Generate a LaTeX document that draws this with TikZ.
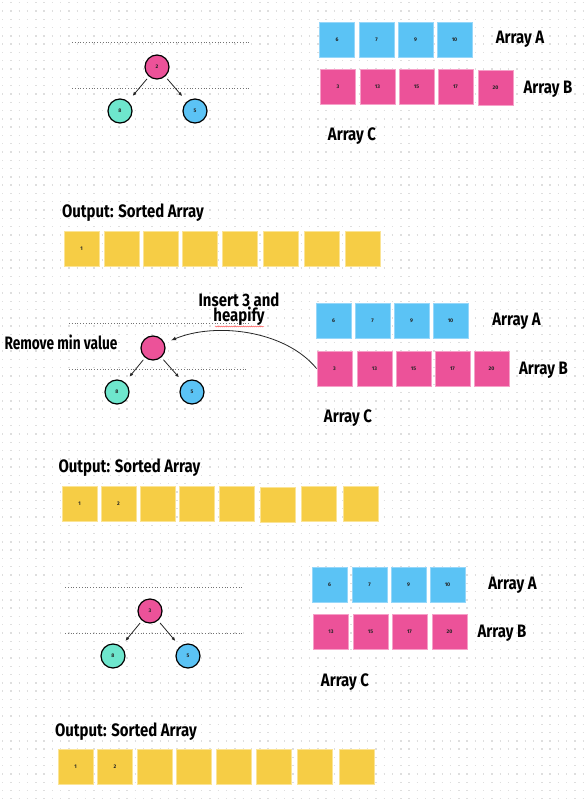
\documentclass[tikz,border=0pt]{standalone}
\usepackage{fontspec}
\setmainfont{Fira Sans}
\usetikzlibrary{arrows.meta,decorations.pathmorphing}
\definecolor{bluebox}{RGB}{91,195,245}
\definecolor{blueedge}{RGB}{150,215,250}
\definecolor{pinkbox}{RGB}{236,82,153}
\definecolor{pinkedge}{RGB}{246,160,200}
\definecolor{yellowbox}{RGB}{246,205,69}
\definecolor{yellowedge}{RGB}{251,228,150}
\definecolor{tealnode}{RGB}{110,230,205}
\definecolor{griddot}{RGB}{222,222,222}
\definecolor{numtext}{RGB}{35,35,35}
\newcommand\handtext[1]{\scalebox{0.83}[1]{#1}}
\begin{document}
\begin{tikzpicture}[x=1pt,y=-1pt,
  cell/.style={minimum width=35pt,minimum height=35pt,inner sep=0pt,line width=0.9pt,
    font=\bfseries\fontsize{5.2}{5.2}\selectfont\color{numtext}},
  acell/.style={cell,fill=bluebox,draw=blueedge},
  bcell/.style={cell,fill=pinkbox,draw=pinkedge},
  ocell/.style={cell,fill=yellowbox,draw=yellowedge},
  heapnode/.style={circle,draw=black,line width=1.2pt,minimum size=24pt,inner sep=0pt,
    font=\bfseries\fontsize{5.2}{5.2}\selectfont\color{numtext}},
  rootnode/.style={heapnode,fill=pinkbox},
  leftnode/.style={heapnode,fill=tealnode},
  rightnode/.style={heapnode,fill=bluebox},
  treeedge/.style={-{Latex[length=4pt,width=3.5pt]},line width=0.8pt,black!85,
    shorten <=3pt,shorten >=7pt},
  levelline/.style={dotted,line width=0.8pt,black!55},
  handlabel/.style={font=\bfseries\fontsize{18}{15}\selectfont,anchor=base,inner sep=0pt},
]
\useasboundingbox (0,0) rectangle (583,799);
\fill[white] (0,0) rectangle (583,799);
\foreach \r in {0,...,96}{
  \draw[griddot,line width=1.4pt,dash pattern=on 1.4pt off 6.894pt]
    (2,{2.7+8.294*\r}) -- (583,{2.7+8.294*\r});
}

% ---------------- top section ----------------
\draw[levelline] (72,42) -- (250,42);
\draw[levelline] (72,88) -- (250,88);
\node[rootnode] (t1r) at (157,67) {2};
\node[leftnode] (t1l) at (120,111) {8};
\node[rightnode] (t1g) at (195,111) {5};
\draw[treeedge] (t1r) -- (t1l);
\draw[treeedge] (t1r) -- (t1g);

\foreach \x/\v [count=\i] in {337/6,376.5/7,415.5/9,454.5/10}
  \node[acell] (t1a\i) at (\x,39.5) {\v};
\foreach \x/\y/\v [count=\i] in {338/86.5/3,377.5/86.5/13,416.5/86.5/15,455.5/86.5/17,495.5/87.5/20}
  \node[bcell] (t1b\i) at (\x,\y) {\v};
\node[handlabel] (t1la) at (520,43.3) {\handtext{Array A}};
\node[handlabel] (t1lb) at (548,93.3) {\handtext{Array B}};
\node[handlabel] (t1lc) at (352,141) {\handtext{Array C}};

\node[handlabel] (t1lo) at (133,217.3) {\handtext{Output: Sorted Array}};
\foreach \x/\v [count=\i] in {81.5/1,121.5/,160.5/,199.5/,239.5/,280.5/,321.5/,363/}
  \node[ocell] (t1o\i) at (\x,248.5) {\v};

% ---------------- middle section ----------------
\draw[levelline] (69,323) -- (250,323);
\draw[levelline] (69,369) -- (246,369);
\node[rootnode] (m2r) at (153,348) {};
\node[leftnode] (m2l) at (117,392) {8};
\node[rightnode] (m2g) at (192,392) {5};
\draw[treeedge] (m2r) -- (m2l);
\draw[treeedge] (m2r) -- (m2g);

\foreach \x/\v [count=\i] in {333.5/6,372.5/7,411.5/9,450.5/10}
  \node[acell] (m2a\i) at (\x,320.5) {\v};
\foreach \x/\v [count=\i] in {334.5/3,374.5/13,413.5/15,452.5/17,491.5/20}
  \node[bcell] (m2b\i) at (\x,368.5) {\v};
\node[handlabel] (m2la) at (516.5,325) {\handtext{Array A}};
\node[handlabel] (m2lb) at (543.5,374) {\handtext{Array B}};
\node[handlabel] (m2lc) at (348,422.3) {\handtext{Array C}};

\node[handlabel] (m2rm) at (61,349.3) {\scalebox{0.76}[1]{Remove min value}};
\node[handlabel,align=center] (m2ins) at (239,321.5) {\handtext{Insert 3 and}\\\handtext{heapify}};
\draw[red!75,line width=0.4pt,decorate,decoration={snake,amplitude=0.5pt,segment length=2pt}]
  (215,326.5) -- (264,326.5);
\draw[-{Latex[length=5pt,width=4pt]},line width=0.8pt,black!85,shorten >=7pt]
  (m2b1.west) .. controls (285,330) and (215,322) .. (m2r);

\node[handlabel] (m2lo) at (129.5,472.7) {\handtext{Output: Sorted Array}};
\foreach \x/\y/\v [count=\i] in {79.5/503.5/1,118.5/503.5/2,157.5/503.5/,196.5/503.5/,236.5/503.5/,277.5/504.5/,318.5/503.5/,360.5/503.5/}
  \node[ocell] (m2o\i) at (\x,\y) {\v};

% ---------------- bottom section ----------------
\draw[levelline] (65,587) -- (243,587);
\draw[levelline] (65,633) -- (243,633);
\node[rootnode] (b3r) at (150,611) {3};
\node[leftnode] (b3l) at (113,656) {8};
\node[rightnode] (b3g) at (188,656) {5};
\draw[treeedge] (b3r) -- (b3l);
\draw[treeedge] (b3r) -- (b3g);

\foreach \x/\v [count=\i] in {329.5/6,369.5/7,408.5/9,447.5/10}
  \node[acell] (b3a\i) at (\x,584.5) {\v};
\foreach \x/\v [count=\i] in {331/13,370.5/15,409.5/17,449.5/20}
  \node[bcell] (b3b\i) at (\x,631.5) {\v};
\node[handlabel] (b3la) at (512.5,589) {\handtext{Array A}};
\node[handlabel] (b3lb) at (502,637.3) {\handtext{Array B}};
\node[handlabel] (b3lc) at (345,686) {\handtext{Array C}};

\node[handlabel] (b3lo) at (126,736) {\handtext{Output: Sorted Array}};
\foreach \x/\v [count=\i] in {75.5/1,115/2,154.5/,193.5/,233.5/,273.5/,314.5/,356.5/}
  \node[ocell] (b3o\i) at (\x,767) {\v};
\end{tikzpicture}
\end{document}
